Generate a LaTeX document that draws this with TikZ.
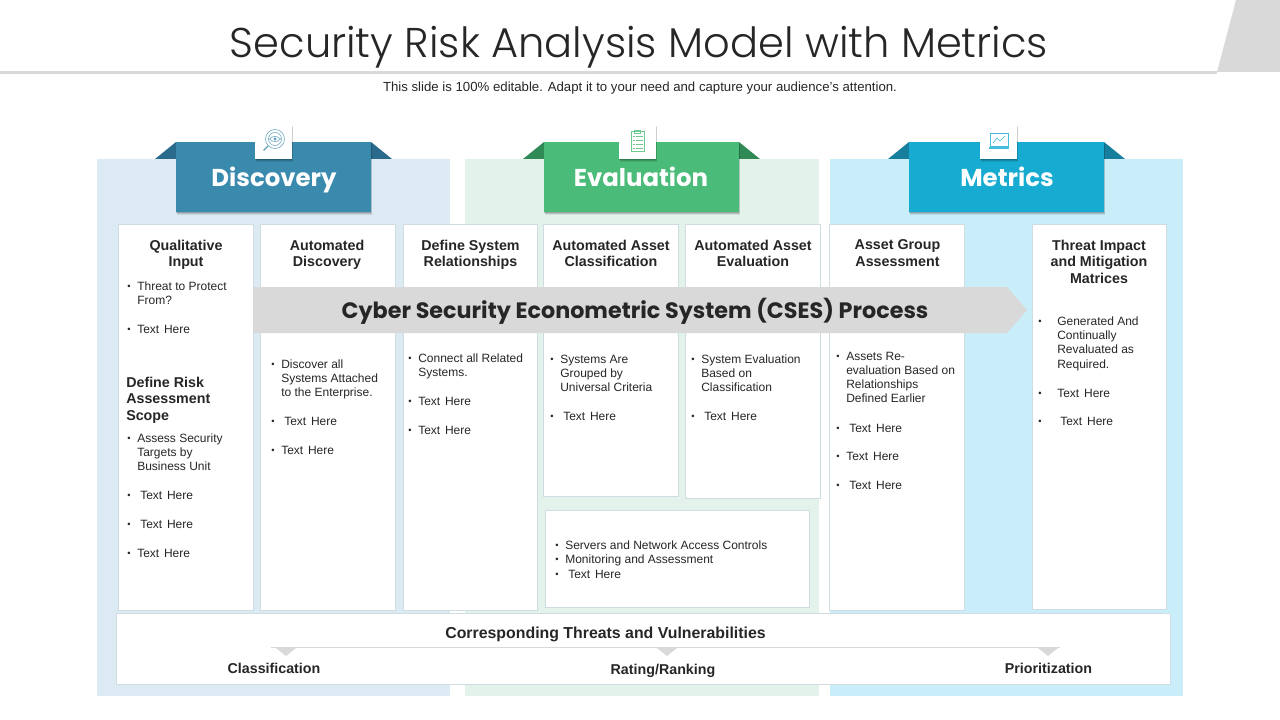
\documentclass[tikz,border=0pt]{standalone}
\usepackage{fontspec}
\setmainfont{Liberation Sans}
\newfontfamily\headfont{Poppins}
\newfontfamily\titlefont[UprightFont=* Light]{Poppins}
\usetikzlibrary{shadows}
\definecolor{inktext}{HTML}{262626}
\definecolor{bargray}{HTML}{D9D9D9}
\definecolor{edgegray}{HTML}{CFDDE3}
\definecolor{discpanel}{HTML}{DCEAF3}
\definecolor{discband}{HTML}{3A8AAE}
\definecolor{discear}{HTML}{2A6A8A}
\definecolor{evalpanel}{HTML}{E3F3EB}
\definecolor{evalband}{HTML}{4ABB78}
\definecolor{evalear}{HTML}{2F8A55}
\definecolor{metrpanel}{HTML}{C9EEF9}
\definecolor{metrband}{HTML}{17ABD1}
\definecolor{metrear}{HTML}{177F9E}
\newcommand{\bul}[1][7.5pt]{\makebox[#1][l]{\raisebox{0.6pt}{\scriptsize\textbullet}}}
\newcommand{\itmgap}[1][7.5pt]{\hspace*{#1}}
\newcommand{\txthere}{Text\hspace{3.6pt}Here}
\tikzset{
  softshadow/.style={
    drop shadow={shadow xshift=0.6pt,shadow yshift=-2.4pt,fill=black,opacity=.08},
    drop shadow={shadow xshift=0.4pt,shadow yshift=-1.7pt,fill=black,opacity=.12},
    drop shadow={shadow xshift=0.2pt,shadow yshift=-1pt,fill=black,opacity=.16}},
  cardbox/.style={draw=edgegray,line width=.6pt,fill=white},
  tilebox/.style={fill=white,softshadow},
  bandtext/.style={text=white,anchor=base,font=\headfont\bfseries\fontsize{18.3}{22}\selectfont},
  cardhead/.style={text=inktext,align=center,anchor=north,inner sep=0pt,font=\bfseries\fontsize{10.7}{12.4}\selectfont},
  itemtext/.style={text=inktext,align=left,anchor=north west,inner sep=0pt,font=\fontsize{9}{10.7}\selectfont},
  footlabel/.style={text=inktext,inner sep=0pt,font=\bfseries\fontsize{10.7}{12.4}\selectfont},
  pointer/.style={fill=bargray}
}
\begin{document}
\begin{tikzpicture}[x=0.75pt,y=-0.75pt]
  \useasboundingbox (0,0) rectangle (1280,720);
  % title bar
  \fill[bargray] (1236,0) -- (1280,0) -- (1280,72) -- (1217,72) -- cycle;
  \fill[bargray] (0,71) rectangle (1217,74);
  \node[text=inktext,anchor=base,font=\titlefont\fontsize{31.2}{37}\selectfont] (title) at (639,58) {Security Risk Analysis Model with Metrics};
  \node[text=inktext,font=\fontsize{9.9}{12}\selectfont] (subtitle) at (640,88) {This slide is 100\% editable. Adapt it to your need and capture your audience's attention.};
  % panels
  \fill[discpanel] (97,159) rectangle (450,696);
  \fill[evalpanel] (465,159) rectangle (819,696);
  \fill[metrpanel] (830,159) rectangle (1183,696);
  % bands
  \foreach \xa/\xt/\pname/\ename in {176/255/discband/discear,544/619/evalband/evalear,909/980/metrband/metrear}{
    \fill[\ename] (\xa-21,159) -- (\xa,142) -- (\xa,159) -- cycle;
    \fill[\ename] (\xa+216,159) -- (\xa+195,142) -- (\xa+195,159) -- cycle;
    \fill[\pname,softshadow] (\xa,142) rectangle (\xa+195,212);
    \fill[tilebox] (\xt,124) rectangle (\xt+37,159);
  }
  \node[bandtext] (discovery) at (274,187) {Discovery};
  \node[bandtext] (evaluation) at (641,187) {Evaluation};
  \node[bandtext] (metrics) at (1007,187) {Metrics};
  % icons
  \begin{scope}[discband!80,line width=.4pt]
    \draw (275,139) circle (9.5);
    \draw (275,139) circle (6.5);
    \draw (269.5,139) .. controls (273,135.5) and (277,135.5) .. (280.5,139) .. controls (277,142.5) and (273,142.5) .. (269.5,139);
    \fill (275,139) circle (1.6);
    \draw[line width=1pt] (268,146) -- (263.5,150.5);
  \end{scope}
  \begin{scope}[evalband!80,line width=.4pt]
    \draw (631,131) rectangle (644,151);
    \draw (634,130) rectangle (640,133);
    \foreach \ya in {136,140,144,148}{
      \draw (632.5,\ya) -- (634.5,\ya);
      \draw (636,\ya) -- (642.5,\ya);
    }
  \end{scope}
  \begin{scope}[metrband!80,line width=.5pt]
    \draw (990,133) rectangle (1008,146);
    \draw (993,143) -- (997,138) -- (1000,141) -- (1005,136);
    \draw[line width=1pt] (989,148) -- (1009,148);
  \end{scope}
  % cards
  \foreach \xa/\ya/\xb/\yb in {118/224/253/610,260.5/224/395/610,403/224/537/610,543/224/678/496,685.5/224/820/498,829/224/964/610,1032/224/1166/609,545/510.5/809/607}{
    \draw[cardbox] (\xa,\ya) rectangle (\xb,\yb);
  }
  \node[cardhead] (qualhead) at (186,239.5) {Qualitative\\Input};
  \node[cardhead] (autodisc) at (327,239.5) {Automated\\Discovery};
  \node[cardhead] (defsys) at (470.5,239.5) {Define System\\Relationships};
  \node[cardhead] (autoclass) at (611,239.5) {Automated Asset\\Classification};
  \node[cardhead] (autoeval) at (753,239.5) {Automated Asset\\Evaluation};
  \node[cardhead] (groupass) at (897.5,239.5) {Asset Group\\Assessment};
  \node[cardhead] (impact) at (1099,239.5) {Threat Impact\\and Mitigation\\Matrices};
  % process arrow
  \fill[bargray] (253,287) -- (1007,287) -- (1027,310) -- (1007,333) -- (253,333) -- cycle;
  \node[text=inktext,anchor=base,font=\headfont\bfseries\fontsize{16.7}{20}\selectfont] (process) at (635,318.5) {Cyber Security Econometric System (CSES) Process};
  % qualitative input
  \node[itemtext] (qa) at (127,281.5) {\bul Threat to Protect\\\itmgap From?};
  \node[itemtext] (qb) at (127,324.5) {\bul\txthere};
  \node[cardhead,align=left,anchor=north west] (scope) at (126,376.5) {Define Risk\\Assessment\\Scope};
  \node[itemtext] (qc) at (127,433.5) {\bul Assess Security\\\itmgap Targets by\\\itmgap Business Unit};
  \node[itemtext] (qd) at (127,490.5) {\bul[9.75pt]\txthere};
  \node[itemtext] (qe) at (127,519.5) {\bul[9.75pt]\txthere};
  \node[itemtext] (qf) at (127,548.5) {\bul\txthere};
  % automated discovery
  \node[itemtext] (da) at (271,359.5) {\bul Discover all\\\itmgap Systems Attached\\\itmgap to the Enterprise.};
  \node[itemtext] (db) at (271,416.5) {\bul[9.75pt]\txthere};
  \node[itemtext] (dc) at (271,445.5) {\bul\txthere};
  % relationships
  \node[itemtext] (ra) at (408,353.5) {\bul Connect all Related\\\itmgap Systems.};
  \node[itemtext] (rb) at (408,396.5) {\bul\txthere};
  \node[itemtext] (rc) at (408,425.5) {\bul\txthere};
  % classification
  \node[itemtext] (ca) at (550,354.5) {\bul Systems Are\\\itmgap Grouped by\\\itmgap Universal Criteria};
  \node[itemtext] (cb) at (550,411.5) {\bul[9.75pt]\txthere};
  % evaluation
  \node[itemtext] (ea) at (691,354.5) {\bul System Evaluation\\\itmgap Based on\\\itmgap Classification};
  \node[itemtext] (eb) at (691,411.5) {\bul[9.75pt]\txthere};
  % group assessment
  \node[itemtext] (ga) at (836,351.5) {\bul Assets Re-\\\itmgap evaluation Based on\\\itmgap Relationships\\\itmgap Defined Earlier};
  \node[itemtext] (gb) at (836,423.5) {\bul[9.75pt]\txthere};
  \node[itemtext] (gc) at (836,451.5) {\bul\txthere};
  \node[itemtext] (gd) at (836,480.5) {\bul[9.75pt]\txthere};
  % impact
  \node[itemtext] (ia) at (1038,316.5) {\bul[14.25pt]Generated And\\\itmgap[14.25pt]Continually\\\itmgap[14.25pt]Revaluated as\\\itmgap[14.25pt]Required.};
  \node[itemtext] (ib) at (1038,388.5) {\bul[14.25pt]\txthere};
  \node[itemtext] (ic) at (1038,416.5) {\bul[16.5pt]\txthere};
  % controls
  \node[itemtext] (sa) at (555,540.5) {\bul Servers and Network Access Controls\\\bul Monitoring and Assessment\\\bul[9.75pt]\txthere};
  % threats
  \draw[cardbox] (116,613) rectangle (1170,684);
  \node[footlabel,font=\bfseries\fontsize{11.9}{14}\selectfont] (threats) at (605.5,634.5) {Corresponding Threats and Vulnerabilities};
  \coordinate (railstart) at (271,647.5);
  \coordinate (railend) at (1060,647.5);
  \draw[bargray,line width=.9pt] (railstart) -- (railend);
  \foreach \xa in {286,667,1048}{
    \fill[pointer] (\xa-10,648) -- (\xa+10,648) -- (\xa,656) -- cycle;
  }
  \node[footlabel] (classif) at (274,668) {Classification};
  \node[footlabel] (rating) at (663,670.5) {Rating/Ranking};
  \node[footlabel] (prior) at (1048.5,668.5) {Prioritization};
\end{tikzpicture}
\end{document}
